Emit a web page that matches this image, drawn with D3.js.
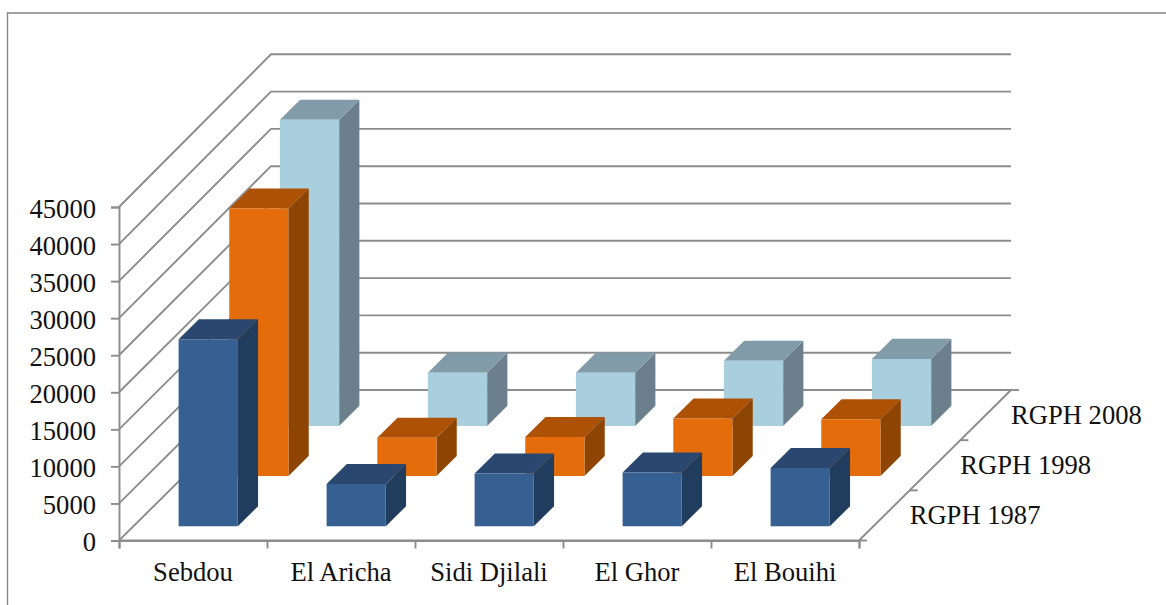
<!DOCTYPE html>
<html>
<head>
<meta charset="utf-8">
<script src="https://cdn.jsdelivr.net/npm/d3@7"></script>
<style>
body { margin: 0; background: #fff; }
text { font-family: "Liberation Serif", serif; font-size: 26.6px; fill: #111; }
</style>
</head>
<body>
<script>
var w = 1166, h = 605;

var categories = ["Sebdou", "El Aricha", "Sidi Djilali", "El Ghor", "El Bouihi"];
var seriesNames = ["RGPH 1987", "RGPH 1998", "RGPH 2008"];
var rgph1987 = [25200, 5700, 7100, 7250, 7850];
var rgph1998 = [36000, 5150, 5250, 7750, 7650];
var rgph2008 = [41100, 7150, 7150, 8750, 9000];
var yTicks = [0, 5000, 10000, 15000, 20000, 25000, 30000, 35000, 40000, 45000];
var seriesValues = [rgph1987, rgph1998, rgph2008];

var frontColors = ["#376092", "#e46c0a", "#a9cede"];
var topColors = ["#2a4770", "#ad5105", "#819ca8"];
var sideColors = ["#213d5e", "#8e4504", "#6b808c"];
var gridColor = "#8c8c8c";

var svg = d3.select("body")
    .append("svg")
    .attr("width", w)
    .attr("height", h)
    .style("display", "block");

var xScale = d3.scaleBand()
    .domain(categories)
    .range([119, 859])
    .paddingInner(0.6)
    .paddingOuter(0.3);

var yScale = d3.scaleLinear().domain([0, 45000]).range([540.5, 207]);
// back wall is a touch bigger than the front edge in the original
var yBack = d3.scaleLinear().domain([0, 45000]).range([390, 54.3]);

var depthMax = 152;
var zScale = d3.scaleBand()
    .domain(seriesNames)
    .range([0, depthMax])
    .paddingInner(0.6)
    .paddingOuter(0.3);

function project(x, v, d) {
    var t = d / depthMax;
    return [x + d, yScale(v) + (yBack(v) - yScale(v)) * t];
}

function poly(points) {
    return points.map(p => p[0] + "," + p[1]).join(" ");
}

// outer frame, cut off by the page on the right and bottom
svg.append("path")
    .attr("d", d3.line()([[7.5, h], [7.5, 13], [w, 13]]))
    .style("fill", "none")
    .style("stroke", "#858585")
    .style("stroke-width", 1.4);

// grid on side and back walls
var xMin = xScale.range()[0], xMax = xScale.range()[1];

var grid = svg.append("g")
    .style("fill", "none")
    .style("stroke", gridColor)
    .style("stroke-width", 1.9);

yTicks.forEach(function(t) {
    grid.append("path")
        .attr("d", d3.line()([project(xMin, t, 0), project(xMin, t, depthMax), project(xMax, t, depthMax)]));
});

// floor edges
grid.append("path")
    .attr("d", d3.line()([project(xMin, 0, 0), project(xMax, 0, 0), project(xMax, 0, depthMax)]));

// depth axis ticks
d3.range(1, 4).forEach(function(i) {
    var p = project(xMax, 0, depthMax * i / 3);
    grid.append("line")
        .attr("x1", p[0])
        .attr("y1", p[1])
        .attr("x2", p[0] + 8)
        .attr("y2", p[1]);
});
grid.append("line")
    .attr("x1", xMax)
    .attr("y1", yScale(0))
    .attr("x2", xMax + 8)
    .attr("y2", yScale(0));

// axes
var yAxis = d3.axisLeft(yScale)
    .tickValues(yTicks)
    .tickFormat(d3.format("d"))
    .tickSize(8)
    .tickPadding(15);

var xTickScale = d3.scaleLinear().domain([0, 5]).range([xMin, xMax]);
var xAxis = d3.axisBottom(xTickScale)
    .ticks(5)
    .tickFormat("")
    .tickSize(8);

var gy = svg.append("g")
    .attr("transform", "translate(" + xMin + ",0)")
    .call(yAxis);
var gx = svg.append("g")
    .attr("transform", "translate(0," + yScale(0) + ")")
    .call(xAxis);

svg.selectAll(".domain, .tick line")
    .style("stroke", gridColor)
    .style("stroke-width", 1.9);
gy.selectAll("text")
    .attr("dy", "0.38em")
    .style("font-family", "'Liberation Serif', serif")
    .style("font-size", "26.6px")
    .style("fill", "#111");

// bars, back series first so the front ones cover them
d3.range(seriesNames.length - 1, -1, -1).forEach(function(s) {
    var name = seriesNames[s];
    var g = svg.append("g").attr("class", "series");
    var z0 = zScale(name), z1 = z0 + zScale.bandwidth();

    categories.forEach(function(c, i) {
        var v = seriesValues[s][i];
        var x0 = xScale(c), x1 = x0 + xScale.bandwidth();

        var baseY = project(x0, 0, z0)[1] + 0.8;
        var topY = project(x0, v, z0)[1] + 0.8;
        var rise = project(x0, 0, z0)[1] - project(x0, 0, z1)[1];

        var fl = [x0 + z0, topY], fr = [x1 + z0, topY];
        var br = [x1 + z0, baseY], bl = [x0 + z0, baseY];
        var tl = [x0 + z1, topY - rise], tr = [x1 + z1, topY - rise];
        var sb = [x1 + z1, baseY - rise];

        g.append("polygon").attr("points", poly([fr, tr, sb, br]))
            .style("fill", sideColors[s]);
        g.append("polygon").attr("points", poly([fl, tl, tr, fr]))
            .style("fill", topColors[s]);
        g.append("polygon").attr("points", poly([fl, fr, br, bl]))
            .style("fill", frontColors[s]);
    });
});

// category labels
svg.append("g").selectAll("text")
    .data(categories)
    .join("text")
    .attr("x", d => xScale(d) + xScale.bandwidth() / 2)
    .attr("y", 581)
    .attr("text-anchor", "middle")
    .text(d => d);

// series labels along the depth axis
svg.append("g").selectAll("text")
    .data(seriesNames)
    .join("text")
    .attr("x", (d, i) => project(xMax, 0, depthMax * (i + 1) / 3)[0])
    .attr("y", (d, i) => project(xMax, 0, depthMax * (i + 1) / 3)[1] + 34)
    .text(d => d);
</script>
</body>
</html>
